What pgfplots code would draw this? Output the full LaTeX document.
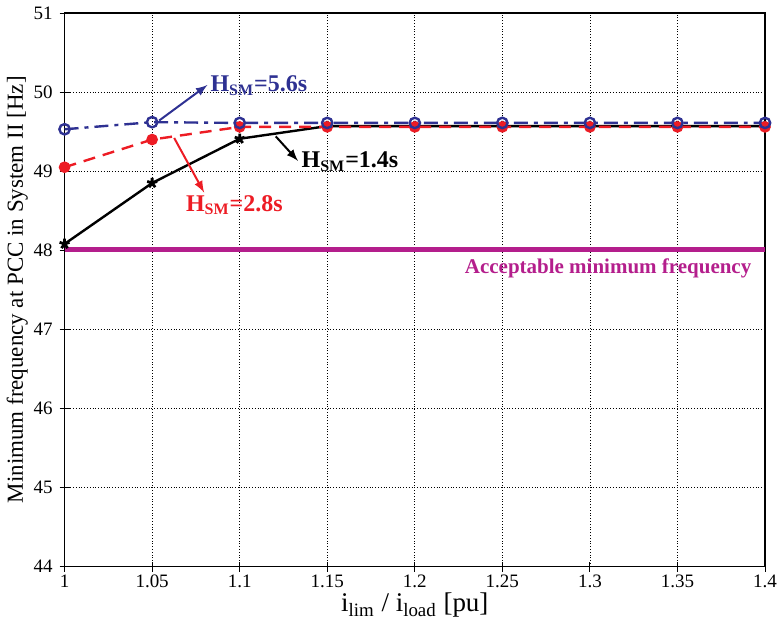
\documentclass[border=0pt]{standalone}
\usepackage{pgfplots}
\pgfplotsset{compat=1.18}
\usepackage{fontspec}
\setmainfont{Liberation Serif}
\definecolor{myblue}{RGB}{46,49,146}
\definecolor{myred}{RGB}{237,28,36}
\definecolor{mymag}{RGB}{180,30,140}
\begin{document}
\begin{tikzpicture}
\begin{axis}[
  scale only axis,
  width=350.5pt, height=277pt,
  xmin=1, xmax=1.4, ymin=44, ymax=51,
  xtick={1,1.05,1.1,1.15,1.2,1.25,1.3,1.35,1.4},
  xticklabels={1,1.05,1.1,1.15,1.2,1.25,1.3,1.35,1.4},
  ytick={44,45,46,47,48,49,50,51},
  grid=major,
  major grid style={black, densely dotted, line width=0.4pt},
  tick align=center,
  xtick pos=bottom, ytick pos=left,
  major tick length=5pt,
  tick style={black, line width=0.5pt},
  axis line style={line width=0.7pt},
  /pgf/number format/assume math mode=true,
  ticklabel style={font=\fontsize{9.5}{11}\selectfont},
  xticklabel style={overlay, yshift=2pt},
  xlabel={\fontsize{13.5}{15}\selectfont i\textsubscript{lim} / i\textsubscript{load} [pu]},
  ylabel={\fontsize{11.5}{13}\selectfont Minimum frequency at PCC in System II [Hz]},
  xlabel style={yshift=4pt},
  ylabel style={yshift=-4pt},
  clip=false,
]
\addplot[mymag, line width=2.2pt] coordinates {(1,48.01) (1.4,48.01)};
\addplot[black, line width=1.2pt, mark=star, mark size=2.6pt, mark options={solid, line width=1.4pt}] coordinates {
(1,48.08) (1.05,48.85) (1.1,49.41) (1.15,49.57) (1.2,49.57) (1.25,49.57) (1.3,49.57) (1.35,49.57) (1.4,49.57)};
\addplot[myred, line width=1.2pt, dashed, dash pattern=on 6pt off 4pt, mark=*, mark size=2.3pt, mark options={solid}] coordinates {
(1,49.05) (1.05,49.40) (1.1,49.56) (1.15,49.56) (1.2,49.56) (1.25,49.56) (1.3,49.56) (1.35,49.56) (1.4,49.56)};
\addplot[myblue, line width=1.2pt, dash pattern=on 7pt off 3pt on 2pt off 3pt, mark=o, mark size=2.6pt, mark options={solid, line width=1.2pt}] coordinates {
(1,49.53) (1.05,49.62) (1.1,49.61) (1.15,49.61) (1.2,49.61) (1.25,49.61) (1.3,49.61) (1.35,49.61) (1.4,49.61)};
% annotations
\draw[myblue, line width=1pt, -latex] (axis cs:1.054,49.64) -- (axis cs:1.0816,50.09);
\node[myblue, anchor=west, font=\fontsize{12}{14}\selectfont\bfseries, inner sep=1pt] at (axis cs:1.082,50.08) {H\textsubscript{SM}=5.6s};
\draw[myred, line width=1pt, -latex] (axis cs:1.0626,49.42) -- (axis cs:1.0797,48.73);
\node[myred, anchor=west, font=\fontsize{12}{14}\selectfont\bfseries, inner sep=1pt] at (axis cs:1.068,48.57) {H\textsubscript{SM}=2.8s};
\draw[black, line width=1pt, -latex] (axis cs:1.1206,49.44) -- (axis cs:1.1333,49.13);
\node[black, anchor=west, font=\fontsize{12}{14}\selectfont\bfseries, inner sep=1pt] at (axis cs:1.134,49.12) {H\textsubscript{SM}=1.4s};
\node[mymag, font=\fontsize{10.5}{12}\selectfont\bfseries] at (axis cs:1.3104,47.77) {Acceptable minimum frequency};
\path (rel axis cs:1,0) ++(7pt,0pt) coordinate (bbr);
\path (bbr) rectangle (bbr);
\end{axis}
\end{tikzpicture}
\end{document}
